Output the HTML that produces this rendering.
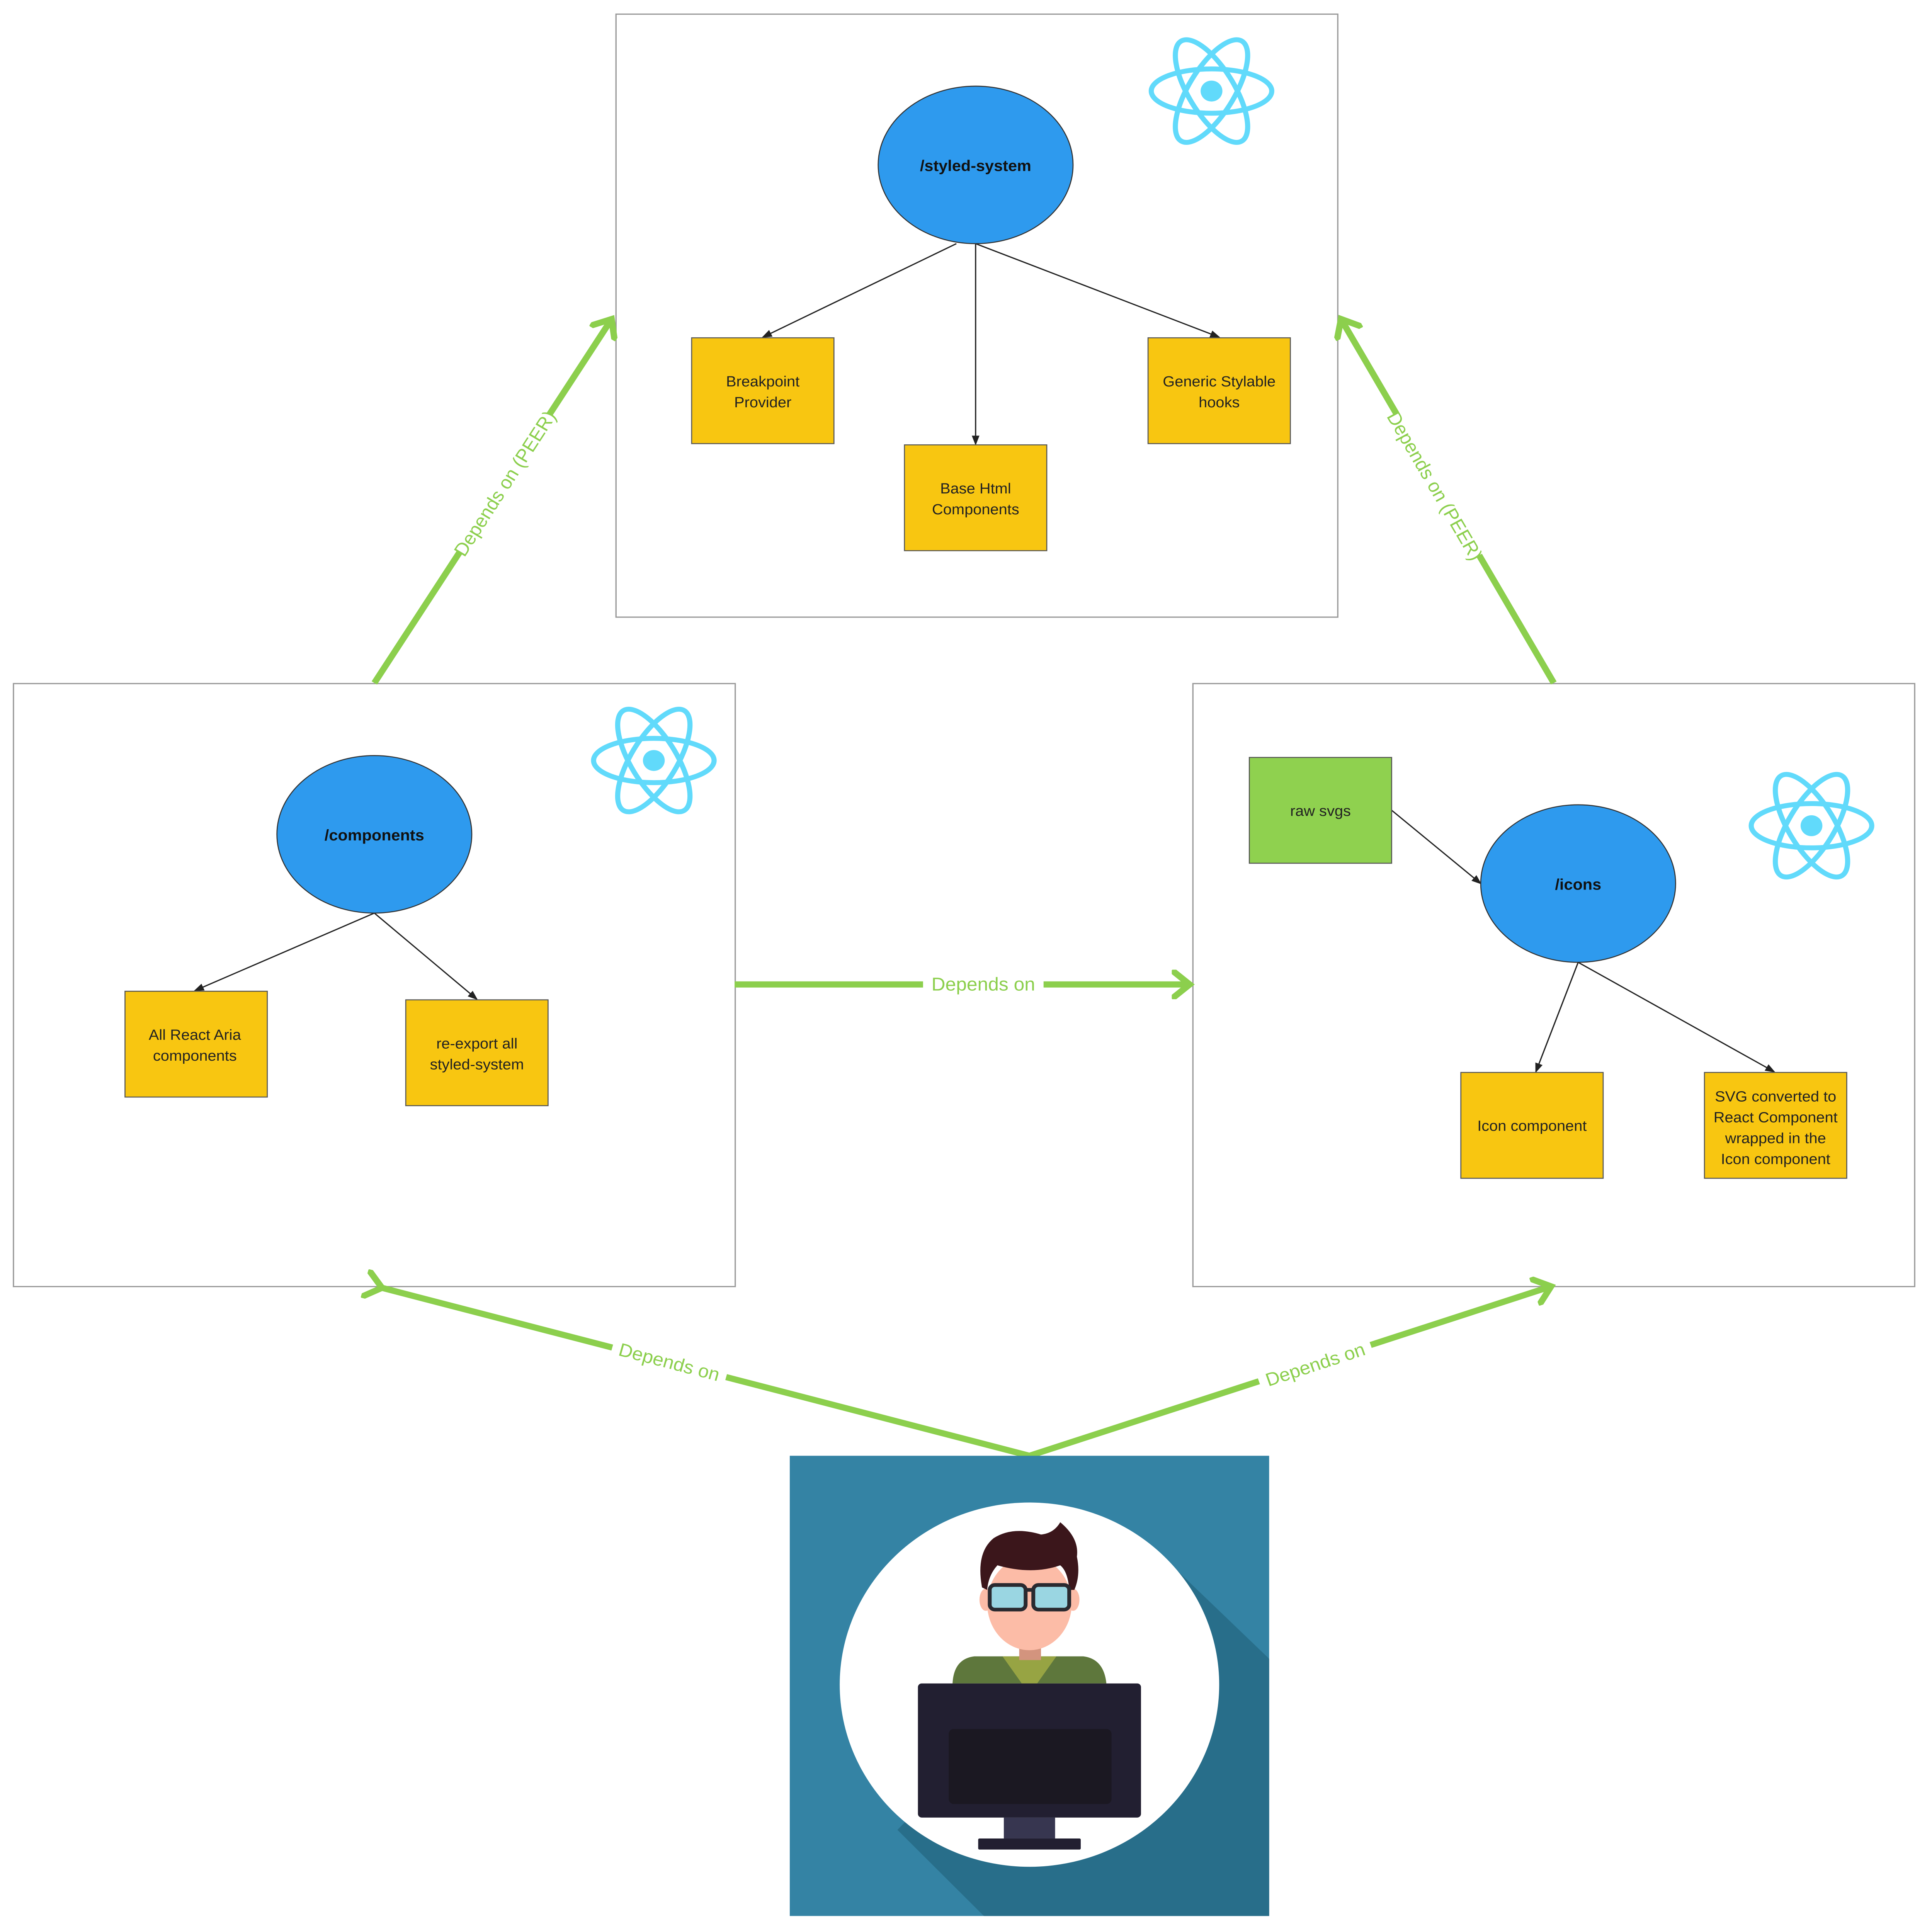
<!DOCTYPE html>
<html><head><meta charset="utf-8"><style>html,body{margin:0;padding:0;background:#fff;width:100%;height:100%;overflow:hidden}svg{display:block;position:fixed;left:0;top:0;width:100vw;height:100vh}</style></head>
<body>
<svg viewBox="0 0 1507 1570" preserveAspectRatio="none" xmlns="http://www.w3.org/2000/svg" font-family="Liberation Sans, sans-serif">
<defs>
<marker id="ah" markerWidth="8" markerHeight="8" refX="7" refY="4" orient="auto" markerUnits="userSpaceOnUse"><path d="M0,1 L8,4 L0,7 z" fill="#222"/></marker>
<marker id="ga" markerWidth="24" markerHeight="24" refX="12" refY="12" orient="auto" markerUnits="userSpaceOnUse"><path d="M2,2 L14,12 L2,22" fill="none" stroke="#8ccf4d" stroke-width="5" stroke-linecap="round"/></marker>
<g id="react"><g fill="none" stroke="#61dafb" stroke-width="4"><ellipse rx="47" ry="18"/><ellipse rx="47" ry="18" transform="rotate(60)"/><ellipse rx="47" ry="18" transform="rotate(-60)"/></g><circle r="8.5" fill="#61dafb"/></g>
<clipPath id="pc"><rect x="616" y="1183" width="374" height="374"/></clipPath>
</defs>
<rect width="1507" height="1570" fill="#fff"/>
<g fill="#fff" stroke="#999" stroke-width="1">
<rect x="480.5" y="11.5" width="563" height="490"/>
<rect x="10.5" y="555.5" width="563" height="490"/>
<rect x="930.5" y="555.5" width="563" height="490"/>
</g>
<g stroke="#8ccf4d" stroke-width="5" fill="none">
<line x1="292" y1="555" x2="476" y2="261" marker-end="url(#ga)"/>
<line x1="1212" y1="555" x2="1047" y2="261" marker-end="url(#ga)"/>
<line x1="573" y1="800" x2="926" y2="800" marker-end="url(#ga)"/>
<polyline points="296,1046 803,1183 1208,1046" marker-start="url(#ga)" marker-end="url(#ga)" />
</g>
<g fill="#8ccf4d" font-size="15" text-anchor="middle">
<g transform="translate(394,393) rotate(-58)"><rect x="-66" y="-12" width="132" height="24" fill="#fff"/><text y="5">Depends on (PEER)</text></g>
<g transform="translate(1119,395) rotate(60.6)"><rect x="-66" y="-12" width="132" height="24" fill="#fff"/><text y="5">Depends on (PEER)</text></g>
<g transform="translate(767,800)"><rect x="-47" y="-10" width="94" height="20" fill="#fff"/><text y="5">Depends on</text></g>
<g transform="translate(522,1107) rotate(15.2)"><rect x="-46" y="-11" width="92" height="22" fill="#fff"/><text y="5">Depends on</text></g>
<g transform="translate(1026,1109) rotate(-18.8)"><rect x="-46" y="-11" width="92" height="22" fill="#fff"/><text y="5">Depends on</text></g>
</g>
<use href="#react" x="945" y="74"/>
<use href="#react" x="510" y="618"/>
<use href="#react" x="1413" y="671"/>
<g stroke="#222" stroke-width="1" fill="none" marker-end="url(#ah)">
<line x1="746" y1="198" x2="595" y2="274"/>
<line x1="761" y1="198" x2="761" y2="361"/>
<line x1="761" y1="198" x2="951" y2="274"/>
<line x1="292" y1="742" x2="152" y2="805"/>
<line x1="292" y1="742" x2="372" y2="812"/>
<line x1="1085" y1="658" x2="1155" y2="718"/>
<line x1="1231" y1="782" x2="1198" y2="871"/>
<line x1="1231" y1="782" x2="1384" y2="871"/>
</g>
<g fill="#2e9aee" stroke="#333" stroke-width="0.8">
<ellipse cx="761" cy="134" rx="76" ry="64"/>
<ellipse cx="292" cy="678" rx="76" ry="64"/>
<ellipse cx="1231" cy="718" rx="76" ry="64"/>
</g>
<g font-weight="bold" font-size="12.5" fill="#111" text-anchor="middle">
<text x="761" y="139">/styled-system</text>
<text x="292" y="683">/components</text>
<text x="1231" y="723">/icons</text>
</g>
<g fill="#f8c611" stroke="#555" stroke-width="0.8">
<rect x="539.5" y="274.5" width="111" height="86"/>
<rect x="705.5" y="361.5" width="111" height="86"/>
<rect x="895.5" y="274.5" width="111" height="86"/>
<rect x="97.5" y="805.5" width="111" height="86"/>
<rect x="316.5" y="812.5" width="111" height="86"/>
<rect x="1139.5" y="871.5" width="111" height="86"/>
<rect x="1329.5" y="871.5" width="111" height="86"/>
<rect x="974.5" y="615.5" width="111" height="86" fill="#8fd14f"/>
</g>
<g font-size="12" fill="#222" text-anchor="middle">
<text x="595" y="314">Breakpoint</text><text x="595" y="331">Provider</text>
<text x="761" y="401">Base Html</text><text x="761" y="418">Components</text>
<text x="951" y="314">Generic Stylable</text><text x="951" y="331">hooks</text>
<text x="152" y="845">All React Aria</text><text x="152" y="862">components</text>
<text x="372" y="852">re-export all</text><text x="372" y="869">styled-system</text>
<text x="1030" y="663">raw svgs</text>
<text x="1195" y="919">Icon component</text>
<text x="1385" y="895">SVG converted to</text><text x="1385" y="912">React Component</text><text x="1385" y="929">wrapped in the</text><text x="1385" y="946">Icon component</text>
</g>
<g clip-path="url(#pc)">
<rect x="616" y="1183" width="374" height="374" fill="#3483a4"/>
<path d="M908,1266 L1000,1358 L1000,1570 L780,1570 L700,1487 Z" fill="#286e8a"/>
<circle cx="803" cy="1369" r="148" fill="#fff"/>
<path d="M743,1368 Q744,1348 760,1346 L845,1346 Q861,1348 863,1368 Z" fill="#5e773c"/>
<path d="M782,1346 L824,1346 L809,1368 L797,1368 Z" fill="#97a443"/>
<rect x="795" y="1325" width="17" height="24" fill="#d3947e"/>
<ellipse cx="803" cy="1303" rx="33" ry="38" fill="#fcbca7"/>
<ellipse cx="769" cy="1300" rx="5" ry="9" fill="#fcbca7"/>
<ellipse cx="837" cy="1300" rx="5" ry="9" fill="#fcbca7"/>
<path d="M766,1290 Q761,1262 775,1250 Q790,1240 812,1247 Q822,1246 827,1237 Q842,1250 840,1265 Q843,1280 838,1292 L834,1292 Q833,1277 827,1272 Q805,1280 778,1272 Q771,1280 770,1292 Z" fill="#3b161b"/>
<g fill="#9ad6e2" stroke="#2a2a30" stroke-width="3"><rect x="772" y="1288" width="28" height="20" rx="4"/><rect x="806" y="1288" width="28" height="20" rx="4"/></g>
<line x1="800" y1="1292" x2="806" y2="1292" stroke="#2a2a30" stroke-width="3"/>
<rect x="716" y="1368" width="174" height="109" rx="3" fill="#221f31"/>
<rect x="740" y="1405" width="127" height="61" rx="4" fill="#1b1822"/>
<rect x="783" y="1477" width="40" height="17" fill="#373650"/>
<rect x="763" y="1494" width="80" height="9" rx="1" fill="#221f31"/>
</g>
</svg>
</body></html>
